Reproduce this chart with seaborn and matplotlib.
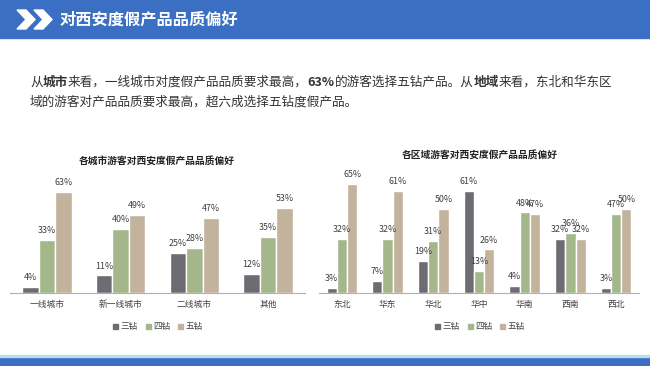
import numpy as np
import pandas as pd
import matplotlib
matplotlib.use('Agg')
import matplotlib.pyplot as plt
import seaborn as sns
from matplotlib.patches import Rectangle, Polygon

# Datos
ciudades = ['一线城市', '新一线城市', '二线城市', '其他']
regiones = ['东北', '华东', '华北', '华中', '华南', '西南', '西北']
niveles = ['三钻', '四钻', '五钻']
ciudad_3 = [4, 11, 25, 12]
ciudad_4 = [33, 40, 28, 35]
ciudad_5 = [63, 49, 47, 53]
region_3 = [3, 7, 19, 61, 4, 32, 3]
region_4 = [32, 32, 31, 13, 48, 36, 47]
region_5 = [65, 61, 50, 26, 47, 32, 50]

colores = ['#6d6c72', '#a3b78b', '#c3b29c']
azul = '#3a6fc3'
gris_txt = '#404040'

sns.set_style('white')
plt.rcParams['font.family'] = ['Noto Sans CJK SC', 'DejaVu Sans']

W, H = 650, 366


def px(x0, y0, x1, y1):
    return [x0 / W, 1 - y1 / H, (x1 - x0) / W, (y1 - y0) / H]


def tabla(cats, s3, s4, s5):
    filas = []
    for serie, nombre in zip([s3, s4, s5], niveles):
        for c, v in zip(cats, serie):
            filas.append({'cat': c, 'nivel': nombre, 'valor': v})
    return pd.DataFrame(filas)


def dibujar(ax, cats, s3, s4, s5, ytop):
    df = tabla(cats, s3, s4, s5)
    sns.barplot(data=df, x='cat', y='valor', hue='nivel', order=cats,
                hue_order=niveles, palette=colores, saturation=1,
                width=0.67, legend=False, ax=ax)
    for cont, serie in zip(ax.containers, [s3, s4, s5]):
        ax.bar_label(cont, labels=[f'{v}%' for v in serie], padding=3.5,
                     fontsize=6.4, color=gris_txt)
    ax.set_ylim(0, ytop)
    ax.set_xlim(-0.5, len(cats) - 0.5)
    ax.set_xlabel('')
    ax.set_ylabel('')
    ax.set_yticks([])
    for s in ['top', 'left', 'right']:
        ax.spines[s].set_visible(False)
    ax.spines['bottom'].set_color('#b0b0b0')
    ax.spines['bottom'].set_linewidth(0.8)
    ax.tick_params(axis='x', which='major', length=0, pad=5,
                   labelsize=6.3, labelcolor=gris_txt)
    ax.set_xticks(np.arange(len(cats) + 1) - 0.5, minor=True)
    ax.tick_params(axis='x', which='minor', length=3, color='#b0b0b0',
                   width=0.8, direction='out')
    ax.patch.set_alpha(0)


fig = plt.figure(figsize=(6.5, 3.66), dpi=100)

# Encabezado azul
fig.add_artist(Rectangle((0, 1 - 38 / H), 1, 38 / H, transform=fig.transFigure,
                         color=azul, zorder=0))
for dx in [0, 17]:
    pts = [(17 + dx, 10), (26 + dx, 10), (35 + dx, 19.5), (26 + dx, 29),
           (17 + dx, 29), (26 + dx, 19.5)]
    fig.add_artist(Polygon([(x / W, 1 - y / H) for x, y in pts], closed=True,
                           transform=fig.transFigure, color='white'))
fig.text(60 / W, 1 - 19.5 / H, '对西安度假产品品质偏好', color='white',
         fontsize=11.7, fontweight='bold', va='center', ha='left')

# Barra inferior
fig.add_artist(Rectangle((0, 0), 1, 9 / H, transform=fig.transFigure,
                         color=azul, zorder=0))
fig.add_artist(Rectangle((0, 9 / H), 1, 2 / H, transform=fig.transFigure,
                         color='#b8dcf2', zorder=0))

# Texto descriptivo con partes en negrita
partes = [('从', 'normal'), ('城市', 'bold'),
          ('来看，一线城市对度假产品品质要求最高，', 'normal'), ('63%', 'bold'),
          ('的游客选择五钻产品。从', 'normal'), ('地域', 'bold'),
          ('来看，东北和华东区', 'normal')]
renderer = fig.canvas.get_renderer()
x = 30
for txt, peso in partes:
    t = fig.text(x / W, 1 - 82 / H, txt, fontsize=9.1, color='#333333',
                 va='baseline', ha='left', fontweight=peso)
    x += t.get_window_extent(renderer).width
fig.text(30 / W, 1 - 102 / H, '域的游客对产品品质要求最高，超六成选择五钻度假产品。',
         fontsize=9.1, color='#333333', va='center', ha='left')
# ajustar la primera línea al mismo centro visual
for t in fig.texts[-len(partes) - 1:-1]:
    t.set_y(1 - 86 / H)

# Gráficos
ax1 = fig.add_axes(px(10, 173, 305, 293))
dibujar(ax1, ciudades, ciudad_3, ciudad_4, ciudad_5, 75)
ax2 = fig.add_axes(px(319, 173, 639, 293))
dibujar(ax2, regiones, region_3, region_4, region_5, 71.5)

fig.text(157 / W, 1 - 161 / H, '各城市游客对西安度假产品品质偏好', fontsize=7,
         fontweight='bold', ha='center', va='center', color='#222222')
fig.text(480 / W, 1 - 155 / H, '各区域游客对西安度假产品品质偏好', fontsize=7,
         fontweight='bold', ha='center', va='center', color='#222222')

handles = [Rectangle((0, 0), 1, 1, color=c) for c in colores]
for cx in [158, 480]:
    fig.legend(handles, niveles, loc='center', bbox_to_anchor=(cx / W, 1 - 327 / H),
               ncol=3, frameon=False, fontsize=6.2, handlelength=0.6,
               handleheight=0.6, columnspacing=0.9, handletextpad=0.3,
               labelcolor=gris_txt)

fig.savefig('out.png', dpi=100)
